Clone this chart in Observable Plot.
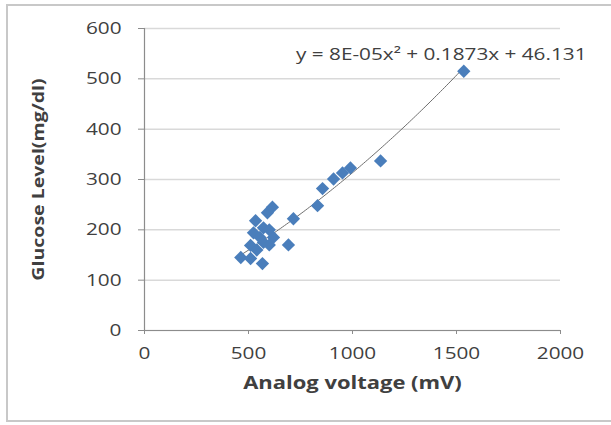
<!DOCTYPE html>
<html>
<head>
<meta charset="utf-8">
<script src="https://cdn.jsdelivr.net/npm/d3@7"></script>
<script src="https://cdn.jsdelivr.net/npm/@observablehq/plot@0.6"></script>
<style>
  html, body { margin: 0; padding: 0; background: #fff; overflow: hidden; }
  #wrap { position: relative; width: 611px; height: 425px; }
  #border { position: absolute; left: 6px; top: 4px; width: 620px; height: 418px; border: 2px solid #c8c8c8; box-sizing: border-box; pointer-events: none; }
</style>
</head>
<body>
<div id="wrap"><div id="border"></div></div>
<script>
// Analog voltage (mV) readings
const voltage = [463, 510, 567, 510, 572, 540, 524, 572, 534, 591, 615, 600, 620, 555, 600, 692, 716, 832, 856, 909, 952, 990, 1135, 1535];
// Glucose level (mg/dl)
const glucose = [145, 143, 133, 169, 175, 160, 194, 204, 218, 234, 245, 200, 185, 185, 170, 170, 222, 248, 282, 301, 313, 323, 337, 515];
// Polynomial trendline coefficients shown in the chart: a*x^2 + b*x + c
const trendCoef = [8e-5, 0.1873, 46.131];
const trendLabel = "y = 8E-05x² + 0.1873x + 46.131";
const xTicks = [0, 500, 1000, 1500, 2000];
const yTicks = [0, 100, 200, 300, 400, 500, 600];
const xTitle = "Analog voltage (mV)";
const yTitle = "Glucose Level(mg/dl)";

const points = voltage.map((v, i) => ({x: v, y: glucose[i]}));
const xmin = d3.min(voltage), xmax = d3.max(voltage);
const trend = d3.range(xmin, xmax + 1, 10).concat([xmax]).map(x => ({x, y: trendCoef[0]*x*x + trendCoef[1]*x + trendCoef[2]}));

const font = "'Open Sans', sans-serif";
const chart = Plot.plot({
  width: 611,
  height: 425,
  marginLeft: 144,
  marginRight: 51,
  marginTop: 28,
  marginBottom: 95,
  style: {fontFamily: font, fontSize: "17px", color: "#404040", background: "transparent"},
  x: {domain: [0, 2000], label: null},
  y: {domain: [0, 600], label: null},
  marks: [
    Plot.gridY(yTicks, {stroke: "#d9d9d9", strokeOpacity: 1, strokeWidth: 1.5}),
    Plot.ruleX([0], {stroke: "#8c8c8c", strokeWidth: 1.2}),
    Plot.ruleY([0], {stroke: "#8c8c8c", strokeWidth: 1.2}),
    Plot.axisY(yTicks, {tickSize: 6, tickPadding: 17, stroke: "#8c8c8c", fill: "#404040", fontSize: 17, label: null}),
    Plot.axisX(xTicks, {tickSize: 4, tickPadding: 12, stroke: "#8c8c8c", fill: "#404040", fontSize: 17, label: null, tickFormat: d => String(d)}),
    Plot.line(trend, {x: "x", y: "y", stroke: "#6e6e6e", strokeWidth: 1}),
    Plot.dot(points, {x: "x", y: "y", symbol: "diamond2", r: 6, fill: "#4a7ebb", stroke: "none"}),
    Plot.text([trendLabel], {frameAnchor: "top-right", textAnchor: "end", dx: 26, dy: 19, fontSize: 17, fill: "#404040"}),
    Plot.text([xTitle], {frameAnchor: "bottom", textAnchor: "middle", dy: 58, fontSize: 18, fontWeight: "bold", fill: "#404040"}),
    Plot.text([yTitle], {frameAnchor: "left", textAnchor: "middle", dx: -106, rotate: -90, fontSize: 16, fontWeight: "bold", fill: "#404040"})
  ]
});
document.getElementById("wrap").prepend(chart);
// The reference lettering is horizontally wide; stretch each label along its baseline.
chart.querySelectorAll("text").forEach(t => {
  const len = t.getComputedTextLength();
  if (len > 0) {
    t.setAttribute("textLength", (len * 1.22).toFixed(1));
    t.setAttribute("lengthAdjust", "spacingAndGlyphs");
  }
});
</script>
</body>
</html>
